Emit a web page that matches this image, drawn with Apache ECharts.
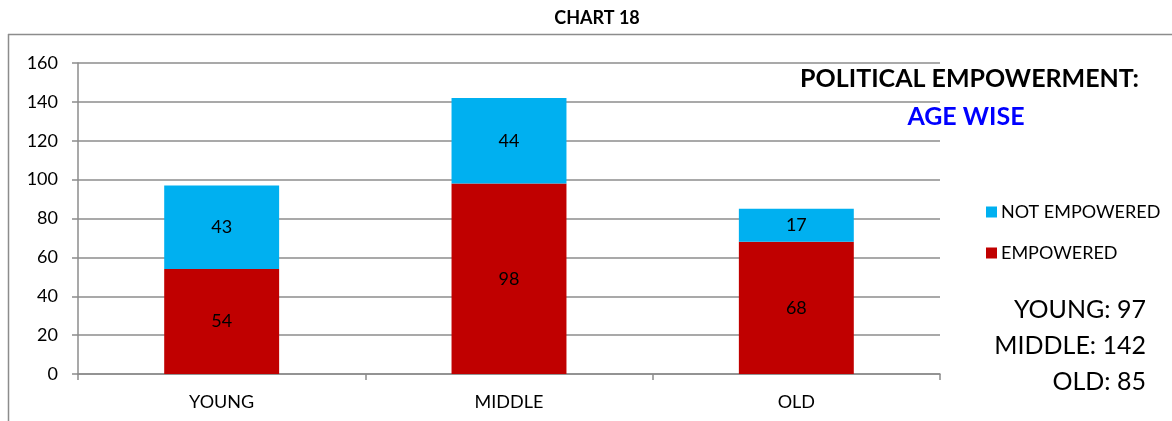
<!DOCTYPE html>
<html>
<head>
<meta charset="utf-8">
<script src="https://cdn.jsdelivr.net/npm/echarts@6/dist/echarts.min.js"></script>
<style>html,body{margin:0;padding:0;background:#fff}#c{width:1172px;height:421px}</style>
</head>
<body>
<div id="c"></div>
<script>
const categories = ['YOUNG', 'MIDDLE', 'OLD'];
const empowered = [54, 98, 68];
const notEmpowered = [43, 44, 17];
const yTicks = { min: 0, max: 160, interval: 20 };
const chartTitle = 'CHART 18';
const heading = 'POLITICAL EMPOWERMENT:';
const subHeading = 'AGE WISE';

const FONT = 'Lato, "Open Sans", sans-serif';
const totals = categories.map((c, i) => c + ': ' + (empowered[i] + notEmpowered[i]));

const chart = echarts.init(document.getElementById('c'));
chart.setOption({
  animation: false,
  textStyle: { fontFamily: FONT },
  grid: { left: 78, right: 232, top: 63, bottom: 47, containLabel: false },
  legend: {
    data: ['NOT EMPOWERED', 'EMPOWERED'],
    orient: 'vertical',
    left: 981, top: 198,
    itemWidth: 11, itemHeight: 11, itemGap: 23,
    icon: 'rect',
    textStyle: { fontSize: 18, color: '#000', fontFamily: FONT, padding: [0, 0, 0, -1] }
  },
  xAxis: {
    type: 'category',
    data: categories,
    axisLine: { lineStyle: { color: '#8c8c8c', width: 1.5 } },
    axisTick: { show: true, length: 6, lineStyle: { color: '#8c8c8c', width: 1.5 } },
    axisLabel: { fontSize: 18, color: '#000', margin: 19, fontFamily: FONT }
  },
  yAxis: {
    type: 'value',
    min: yTicks.min, max: yTicks.max, interval: yTicks.interval,
    axisLine: { show: true, lineStyle: { color: '#8c8c8c', width: 1.5 } },
    axisTick: { show: true, length: 6, lineStyle: { color: '#8c8c8c', width: 1.5 } },
    axisLabel: { fontSize: 18, color: '#000', margin: 20, fontFamily: FONT },
    splitLine: { lineStyle: { color: '#8c8c8c', width: 1.5 } }
  },
  series: [
    { name: 'EMPOWERED', type: 'bar', stack: 'a', data: empowered, barCategoryGap: '60%',
      itemStyle: { color: '#C00000' },
      label: { show: true, position: 'inside', color: '#000', fontSize: 18, fontFamily: FONT } },
    { name: 'NOT EMPOWERED', type: 'bar', stack: 'a', data: notEmpowered, barCategoryGap: '60%',
      itemStyle: { color: '#00B0F0' },
      label: { show: true, position: 'inside', color: '#000', fontSize: 18, fontFamily: FONT } }
  ],
  graphic: [
    { type: 'line', shape: { x1: 8, y1: 34.5, x2: 1172, y2: 34.5 }, style: { stroke: '#8c8c8c', lineWidth: 1.5 } },
    { type: 'line', shape: { x1: 8.5, y1: 34, x2: 8.5, y2: 421 }, style: { stroke: '#8c8c8c', lineWidth: 1.5 } },
    { type: 'text', x: 597, y: 18, style: { text: chartTitle, textAlign: 'center', textVerticalAlign: 'middle', font: 'bold 18px ' + FONT, fill: '#000' } },
    { type: 'text', x: 1139, y: 79, style: { text: heading, textAlign: 'right', textVerticalAlign: 'middle', font: 'bold 25px ' + FONT, fill: '#000' } },
    { type: 'text', x: 966, y: 117, style: { text: subHeading, textAlign: 'center', textVerticalAlign: 'middle', font: 'bold 25px ' + FONT, fill: '#0000FF' } },
    { type: 'text', x: 1146, y: 310, style: { text: totals[0], textAlign: 'right', textVerticalAlign: 'middle', font: '25px ' + FONT, fill: '#000' } },
    { type: 'text', x: 1146, y: 346, style: { text: totals[1], textAlign: 'right', textVerticalAlign: 'middle', font: '25px ' + FONT, fill: '#000' } },
    { type: 'text', x: 1146, y: 382, style: { text: totals[2], textAlign: 'right', textVerticalAlign: 'middle', font: '25px ' + FONT, fill: '#000' } }
  ]
});
</script>
</body>
</html>
